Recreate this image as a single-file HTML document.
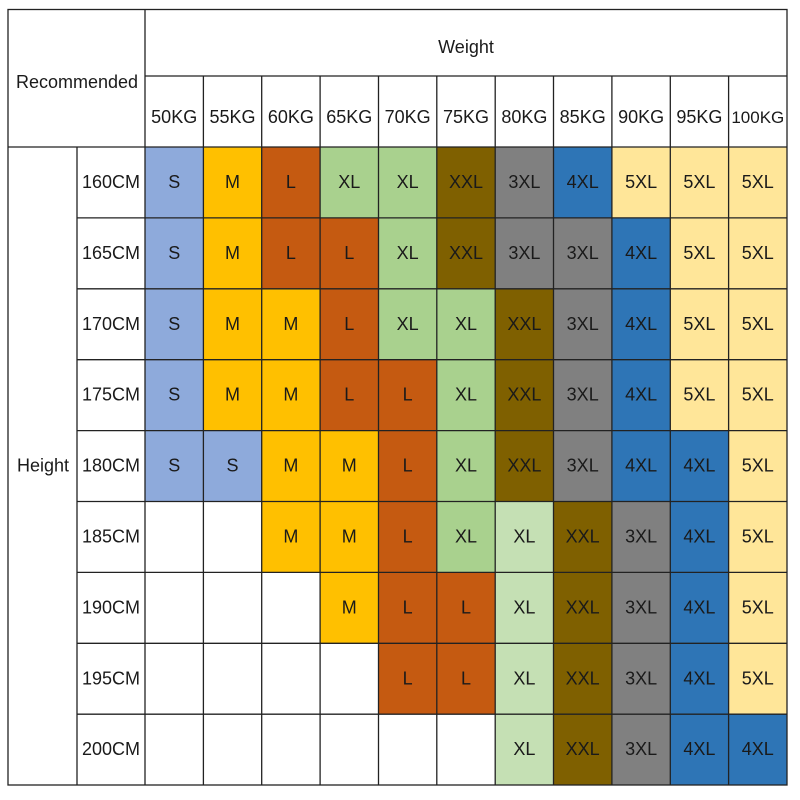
<!DOCTYPE html>
<html><head><meta charset="utf-8"><style>
html,body{margin:0;padding:0;background:#fff;width:800px;height:800px;overflow:hidden}
svg text{font-family:"Liberation Sans","DejaVu Sans",sans-serif;font-size:18px;fill:#1a1a1a;text-anchor:middle}
.s{fill:#8eaadb}.m{fill:#ffc000}.l{fill:#c55a11}.x{fill:#a9d18e}.y{fill:#c5e0b4}.z{fill:#7f6000}.t{fill:#808080}.f{fill:#2e75b6}.v{fill:#ffe699}
</style></head><body>
<svg width="800" height="800" xmlns="http://www.w3.org/2000/svg">
<g transform="translate(0,147)">
<rect class="s" x="145" width="58.4" height="71"/><rect class="m" x="203.4" width="58.4" height="71"/><rect class="l" x="261.7" width="58.4" height="71"/><rect class="x" x="320.1" width="58.4" height="71"/><rect class="x" x="378.5" width="58.4" height="71"/><rect class="z" x="436.8" width="58.4" height="71"/><rect class="t" x="495.2" width="58.4" height="71"/><rect class="f" x="553.5" width="58.4" height="71"/><rect class="v" x="611.9" width="58.4" height="71"/><rect class="v" x="670.3" width="58.4" height="71"/><rect class="v" x="728.6" width="58.4" height="71"/>
<text x="111" y="41">160CM</text><text x="174.2" y="41">S</text><text x="232.5" y="41">M</text><text x="290.9" y="41">L</text><text x="349.3" y="41">XL</text><text x="407.6" y="41">XL</text><text x="466" y="41">XXL</text><text x="524.4" y="41">3XL</text><text x="582.7" y="41">4XL</text><text x="641.1" y="41">5XL</text><text x="699.4" y="41">5XL</text><text x="757.8" y="41">5XL</text>
</g>
<g transform="translate(0,217.9)">
<rect class="s" x="145" width="58.4" height="71"/><rect class="m" x="203.4" width="58.4" height="71"/><rect class="l" x="261.7" width="58.4" height="71"/><rect class="l" x="320.1" width="58.4" height="71"/><rect class="x" x="378.5" width="58.4" height="71"/><rect class="z" x="436.8" width="58.4" height="71"/><rect class="t" x="495.2" width="58.4" height="71"/><rect class="t" x="553.5" width="58.4" height="71"/><rect class="f" x="611.9" width="58.4" height="71"/><rect class="v" x="670.3" width="58.4" height="71"/><rect class="v" x="728.6" width="58.4" height="71"/>
<text x="111" y="41">165CM</text><text x="174.2" y="41">S</text><text x="232.5" y="41">M</text><text x="290.9" y="41">L</text><text x="349.3" y="41">L</text><text x="407.6" y="41">XL</text><text x="466" y="41">XXL</text><text x="524.4" y="41">3XL</text><text x="582.7" y="41">3XL</text><text x="641.1" y="41">4XL</text><text x="699.4" y="41">5XL</text><text x="757.8" y="41">5XL</text>
</g>
<g transform="translate(0,288.8)">
<rect class="s" x="145" width="58.4" height="71"/><rect class="m" x="203.4" width="58.4" height="71"/><rect class="m" x="261.7" width="58.4" height="71"/><rect class="l" x="320.1" width="58.4" height="71"/><rect class="x" x="378.5" width="58.4" height="71"/><rect class="x" x="436.8" width="58.4" height="71"/><rect class="z" x="495.2" width="58.4" height="71"/><rect class="t" x="553.5" width="58.4" height="71"/><rect class="f" x="611.9" width="58.4" height="71"/><rect class="v" x="670.3" width="58.4" height="71"/><rect class="v" x="728.6" width="58.4" height="71"/>
<text x="111" y="41">170CM</text><text x="174.2" y="41">S</text><text x="232.5" y="41">M</text><text x="290.9" y="41">M</text><text x="349.3" y="41">L</text><text x="407.6" y="41">XL</text><text x="466" y="41">XL</text><text x="524.4" y="41">XXL</text><text x="582.7" y="41">3XL</text><text x="641.1" y="41">4XL</text><text x="699.4" y="41">5XL</text><text x="757.8" y="41">5XL</text>
</g>
<g transform="translate(0,359.7)">
<rect class="s" x="145" width="58.4" height="71"/><rect class="m" x="203.4" width="58.4" height="71"/><rect class="m" x="261.7" width="58.4" height="71"/><rect class="l" x="320.1" width="58.4" height="71"/><rect class="l" x="378.5" width="58.4" height="71"/><rect class="x" x="436.8" width="58.4" height="71"/><rect class="z" x="495.2" width="58.4" height="71"/><rect class="t" x="553.5" width="58.4" height="71"/><rect class="f" x="611.9" width="58.4" height="71"/><rect class="v" x="670.3" width="58.4" height="71"/><rect class="v" x="728.6" width="58.4" height="71"/>
<text x="111" y="41">175CM</text><text x="174.2" y="41">S</text><text x="232.5" y="41">M</text><text x="290.9" y="41">M</text><text x="349.3" y="41">L</text><text x="407.6" y="41">L</text><text x="466" y="41">XL</text><text x="524.4" y="41">XXL</text><text x="582.7" y="41">3XL</text><text x="641.1" y="41">4XL</text><text x="699.4" y="41">5XL</text><text x="757.8" y="41">5XL</text>
</g>
<g transform="translate(0,430.6)">
<rect class="s" x="145" width="58.4" height="71"/><rect class="s" x="203.4" width="58.4" height="71"/><rect class="m" x="261.7" width="58.4" height="71"/><rect class="m" x="320.1" width="58.4" height="71"/><rect class="l" x="378.5" width="58.4" height="71"/><rect class="x" x="436.8" width="58.4" height="71"/><rect class="z" x="495.2" width="58.4" height="71"/><rect class="t" x="553.5" width="58.4" height="71"/><rect class="f" x="611.9" width="58.4" height="71"/><rect class="f" x="670.3" width="58.4" height="71"/><rect class="v" x="728.6" width="58.4" height="71"/>
<text x="111" y="41">180CM</text><text x="174.2" y="41">S</text><text x="232.5" y="41">S</text><text x="290.9" y="41">M</text><text x="349.3" y="41">M</text><text x="407.6" y="41">L</text><text x="466" y="41">XL</text><text x="524.4" y="41">XXL</text><text x="582.7" y="41">3XL</text><text x="641.1" y="41">4XL</text><text x="699.4" y="41">4XL</text><text x="757.8" y="41">5XL</text>
<text x="43" y="41">Height</text>
</g>
<g transform="translate(0,501.5)">
<rect class="m" x="261.7" width="58.4" height="71"/><rect class="m" x="320.1" width="58.4" height="71"/><rect class="l" x="378.5" width="58.4" height="71"/><rect class="x" x="436.8" width="58.4" height="71"/><rect class="y" x="495.2" width="58.4" height="71"/><rect class="z" x="553.5" width="58.4" height="71"/><rect class="t" x="611.9" width="58.4" height="71"/><rect class="f" x="670.3" width="58.4" height="71"/><rect class="v" x="728.6" width="58.4" height="71"/>
<text x="111" y="41">185CM</text><text x="290.9" y="41">M</text><text x="349.3" y="41">M</text><text x="407.6" y="41">L</text><text x="466" y="41">XL</text><text x="524.4" y="41">XL</text><text x="582.7" y="41">XXL</text><text x="641.1" y="41">3XL</text><text x="699.4" y="41">4XL</text><text x="757.8" y="41">5XL</text>
</g>
<g transform="translate(0,572.4)">
<rect class="m" x="320.1" width="58.4" height="71"/><rect class="l" x="378.5" width="58.4" height="71"/><rect class="l" x="436.8" width="58.4" height="71"/><rect class="y" x="495.2" width="58.4" height="71"/><rect class="z" x="553.5" width="58.4" height="71"/><rect class="t" x="611.9" width="58.4" height="71"/><rect class="f" x="670.3" width="58.4" height="71"/><rect class="v" x="728.6" width="58.4" height="71"/>
<text x="111" y="41">190CM</text><text x="349.3" y="41">M</text><text x="407.6" y="41">L</text><text x="466" y="41">L</text><text x="524.4" y="41">XL</text><text x="582.7" y="41">XXL</text><text x="641.1" y="41">3XL</text><text x="699.4" y="41">4XL</text><text x="757.8" y="41">5XL</text>
</g>
<g transform="translate(0,643.3)">
<rect class="l" x="378.5" width="58.4" height="71"/><rect class="l" x="436.8" width="58.4" height="71"/><rect class="y" x="495.2" width="58.4" height="71"/><rect class="z" x="553.5" width="58.4" height="71"/><rect class="t" x="611.9" width="58.4" height="71"/><rect class="f" x="670.3" width="58.4" height="71"/><rect class="v" x="728.6" width="58.4" height="71"/>
<text x="111" y="41">195CM</text><text x="407.6" y="41">L</text><text x="466" y="41">L</text><text x="524.4" y="41">XL</text><text x="582.7" y="41">XXL</text><text x="641.1" y="41">3XL</text><text x="699.4" y="41">4XL</text><text x="757.8" y="41">5XL</text>
</g>
<g transform="translate(0,714.2)">
<rect class="y" x="495.2" width="58.4" height="71"/><rect class="z" x="553.5" width="58.4" height="71"/><rect class="t" x="611.9" width="58.4" height="71"/><rect class="f" x="670.3" width="58.4" height="71"/><rect class="f" x="728.6" width="58.4" height="71"/>
<text x="111" y="41">200CM</text><text x="524.4" y="41">XL</text><text x="582.7" y="41">XXL</text><text x="641.1" y="41">3XL</text><text x="699.4" y="41">4XL</text><text x="757.8" y="41">4XL</text>
</g>
<text x="466" y="53">Weight</text>
<text x="77" y="88">Recommended</text>
<g transform="translate(0,123)">
<text x="174.2" y="0">50KG</text><text x="232.5" y="0">55KG</text><text x="290.9" y="0">60KG</text><text x="349.3" y="0">65KG</text><text x="407.6" y="0">70KG</text><text x="466" y="0">75KG</text><text x="524.4" y="0">80KG</text><text x="582.7" y="0">85KG</text><text x="641.1" y="0">90KG</text><text x="699.4" y="0">95KG</text><text x="757.8" y="0" style="font-size:17px">100KG</text>
</g>
<g stroke="#222" stroke-width="1.3" fill="none">
<rect x="8" y="9.5" width="779" height="775.5"/>
<line x1="145" y1="9.5" x2="145" y2="785"/>
<line x1="145" y1="76" x2="787" y2="76"/>
<line x1="8" y1="147" x2="787" y2="147"/>
<line x1="77" y1="147" x2="77" y2="785"/>
<line x1="203.4" y1="76" x2="203.4" y2="785"/>
<line x1="261.7" y1="76" x2="261.7" y2="785"/>
<line x1="320.1" y1="76" x2="320.1" y2="785"/>
<line x1="378.5" y1="76" x2="378.5" y2="785"/>
<line x1="436.8" y1="76" x2="436.8" y2="785"/>
<line x1="495.2" y1="76" x2="495.2" y2="785"/>
<line x1="553.5" y1="76" x2="553.5" y2="785"/>
<line x1="611.9" y1="76" x2="611.9" y2="785"/>
<line x1="670.3" y1="76" x2="670.3" y2="785"/>
<line x1="728.6" y1="76" x2="728.6" y2="785"/>
<line x1="77" y1="217.9" x2="787" y2="217.9"/>
<line x1="77" y1="288.8" x2="787" y2="288.8"/>
<line x1="77" y1="359.7" x2="787" y2="359.7"/>
<line x1="77" y1="430.6" x2="787" y2="430.6"/>
<line x1="77" y1="501.5" x2="787" y2="501.5"/>
<line x1="77" y1="572.4" x2="787" y2="572.4"/>
<line x1="77" y1="643.3" x2="787" y2="643.3"/>
<line x1="77" y1="714.2" x2="787" y2="714.2"/>
</g>
</svg>
</body></html>
